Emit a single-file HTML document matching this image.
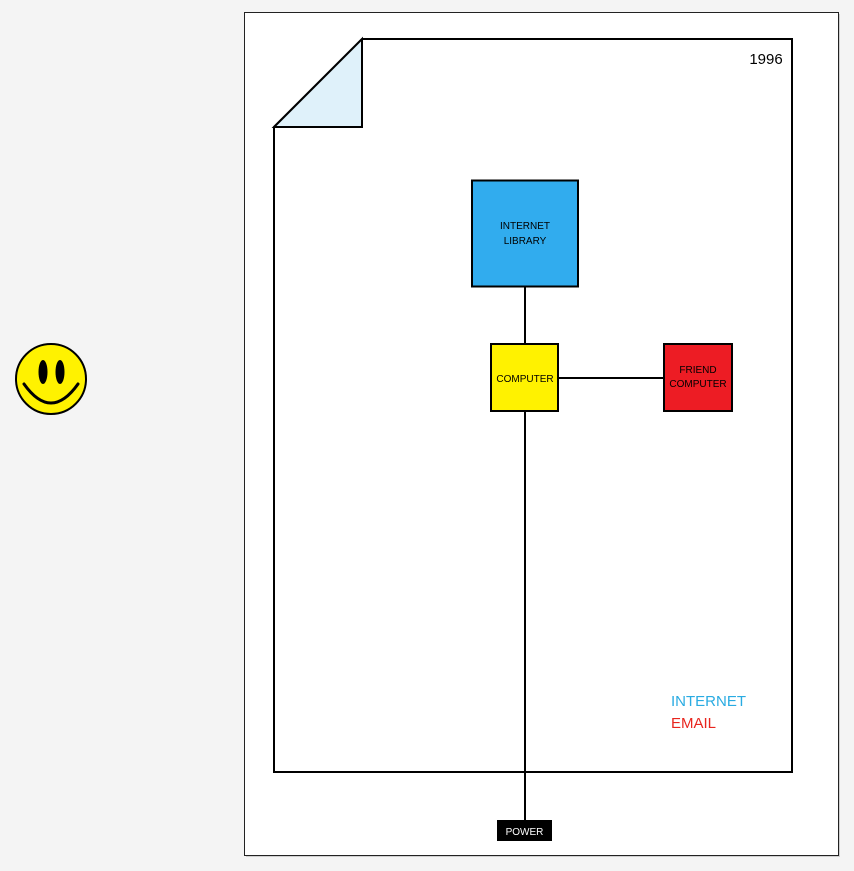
<!DOCTYPE html>
<html><head><style>body{margin:0;background:#f4f4f4;}svg{display:block}</style></head>
<body>
<svg width="854" height="871" xmlns="http://www.w3.org/2000/svg" font-family="Liberation Sans, sans-serif">
<rect x="0" y="0" width="854" height="871" fill="#f4f4f4"/>
<rect x="246" y="14" width="594" height="843" fill="#cfcfcf"/>
<rect x="244.5" y="12.5" width="594" height="843" fill="#fff" stroke="#222" stroke-width="1"/>
<polygon points="274,127 362,39 792,39 792,772 274,772" fill="#fff" stroke="#000" stroke-width="2"/>
<polygon points="274,127 362,39 362,127" fill="#dff1fa" stroke="#000" stroke-width="2"/>
<text x="766" y="64" font-size="15" text-anchor="middle" fill="#000">1996</text>
<line x1="525" y1="287" x2="525" y2="344" stroke="#000" stroke-width="2"/>
<line x1="558" y1="378" x2="664" y2="378" stroke="#000" stroke-width="2"/>
<line x1="525" y1="411" x2="525" y2="821" stroke="#000" stroke-width="2"/>
<rect x="472" y="180.5" width="106" height="106" fill="#31acee" stroke="#000" stroke-width="2"/>
<text x="525" y="229" font-size="10" text-anchor="middle">INTERNET</text>
<text x="525" y="244" font-size="10" text-anchor="middle">LIBRARY</text>
<rect x="491" y="344" width="67" height="67" fill="#fff200" stroke="#000" stroke-width="2"/>
<text x="525" y="382" font-size="10" text-anchor="middle">COMPUTER</text>
<rect x="664" y="344" width="68" height="67" fill="#ed1c24" stroke="#000" stroke-width="2"/>
<text x="698" y="373" font-size="10" text-anchor="middle">FRIEND</text>
<text x="698" y="387" font-size="10" text-anchor="middle">COMPUTER</text>
<rect x="497" y="820" width="55" height="21" fill="#000"/>
<text x="524.5" y="835" font-size="10" text-anchor="middle" fill="#fff">POWER</text>
<text x="671" y="706" font-size="15" fill="#29abe2">INTERNET</text>
<text x="671" y="728" font-size="15" fill="#e8251e">EMAIL</text>
<circle cx="51" cy="379" r="35" fill="#fff200" stroke="#000" stroke-width="2"/>
<ellipse cx="43" cy="372" rx="4.5" ry="12" fill="#000"/>
<ellipse cx="60" cy="372" rx="4.5" ry="12" fill="#000"/>
<path d="M24 384 Q51 422 78 384" fill="none" stroke="#000" stroke-width="3" stroke-linecap="round"/>
</svg>
</body></html>
